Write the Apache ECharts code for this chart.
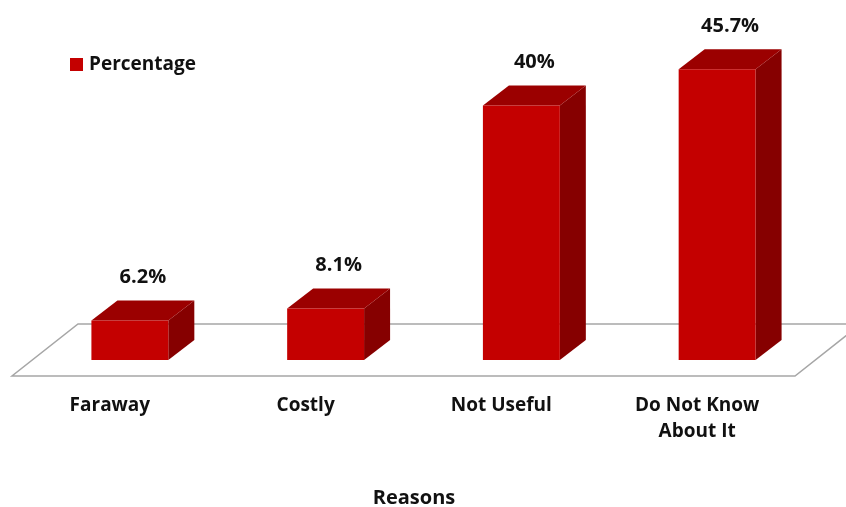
<!DOCTYPE html>
<html>
<head>
<meta charset="utf-8">
<script src="https://cdn.jsdelivr.net/npm/echarts@6/dist/echarts.min.js"></script>
<style>
  html, body { margin: 0; padding: 0; background: #fff; }
  #chart { width: 846px; height: 507px; }
</style>
</head>
<body>
<div id="chart"></div>
<script type="text/javascript">
    var categories = ['Faraway', 'Costly', 'Not Useful', 'Do Not Know\nAbout It'];
    var percentages = [6.2, 8.1, 40, 45.7];
    var valueLabels = ['6.2%', '8.1%', '40%', '45.7%'];

    var FONT = '"Open Sans", "DejaVu Sans", sans-serif';

    var chart = echarts.init(document.getElementById('chart'));

    // floor of the 3d plot, drawn from the grid rect
    function renderFloor(params, api) {
        var cs = params.coordSys;
        var x0 = cs.x, x1 = cs.x + cs.width, y0 = cs.y + cs.height;
        var dx = 66, dy = -52;
        return {
            type: 'polygon',
            silent: true,
            shape: { points: [[x0, y0], [x1, y0], [x1 + dx, y0 + dy], [x0 + dx, y0 + dy]] },
            style: { fill: '#fff', stroke: '#a6a6a6', lineWidth: 1.5 }
        };
    }

    function renderBar(params, api) {
        var idx = api.value(0);
        var val = api.value(1);
        var base = api.coord([idx, 0]);
        var top = api.coord([idx, val]);
        var band = api.size([1, 0])[0];
        var w = band * 0.393;
        // bars sit a bit inside the floor
        var cx = base[0] + 20;
        var b = base[1] - 16;
        var t = top[1] - 16;
        var l = cx - w / 2, r = cx + w / 2;
        var ddx = 26, ddy = -20;
        return {
            type: 'group',
            children: [
                {
                    type: 'polygon',
                    shape: { points: [[r, t], [r + ddx, t + ddy], [r + ddx, b + ddy], [r, b]] },
                    style: { fill: '#860000' }
                },
                {
                    type: 'polygon',
                    shape: { points: [[l, t], [r, t], [r + ddx, t + ddy], [l + ddx, t + ddy]] },
                    style: { fill: '#9b0000' }
                },
                {
                    type: 'rect',
                    shape: { x: l, y: t, width: w, height: b - t },
                    style: { fill: '#c40000' }
                },
                {
                    type: 'text',
                    style: {
                        text: valueLabels[params.dataIndex],
                        x: cx + ddx / 2,
                        y: t + ddy - 23,
                        align: 'center',
                        verticalAlign: 'middle',
                        font: 'bold 20px ' + FONT,
                        fill: '#111'
                    }
                }
            ]
        };
    }

    var barData = percentages.map(function (v, i) { return [i, v]; });

    var option = {
        animation: false,
        title: {
            text: 'Reasons',
            left: 414,
            top: 488,
            padding: 0,
            textAlign: 'center',
            textStyle: { fontFamily: FONT, fontSize: 20, fontWeight: 'bold', color: '#111', lineHeight: 20 }
        },
        legend: {
            data: ['Percentage'],
            left: 65,
            top: 50,
            icon: 'rect',
            itemWidth: 13,
            itemHeight: 13,
            itemGap: 6,
            textStyle: { fontFamily: FONT, fontSize: 19, fontWeight: 'bold', color: '#111', lineHeight: 19, padding: [0, 0, 0, 1] }
        },
        grid: {
            left: 12,
            right: 51,
            top: 58,
            bottom: 131
        },
        xAxis: {
            type: 'category',
            data: categories,
            axisLine: { show: false },
            axisTick: { show: false },
            axisLabel: {
                interval: 0,
                margin: 17,
                fontFamily: FONT,
                fontSize: 19,
                fontWeight: 'bold',
                color: '#111',
                lineHeight: 26
            }
        },
        yAxis: {
            type: 'value',
            min: 0,
            max: 50,
            show: false,
            splitLine: { show: false }
        },
        series: [
            {
                type: 'custom',
                name: 'floor',
                silent: true,
                renderItem: renderFloor,
                data: [[0, 0]],
                z: 1
            },
            {
                type: 'custom',
                name: 'Percentage',
                itemStyle: { color: '#c40000' },
                renderItem: renderBar,
                encode: { x: 0, y: 1 },
                data: barData,
                z: 2
            }
        ]
    };
    chart.setOption(option);
</script>
</body>
</html>
